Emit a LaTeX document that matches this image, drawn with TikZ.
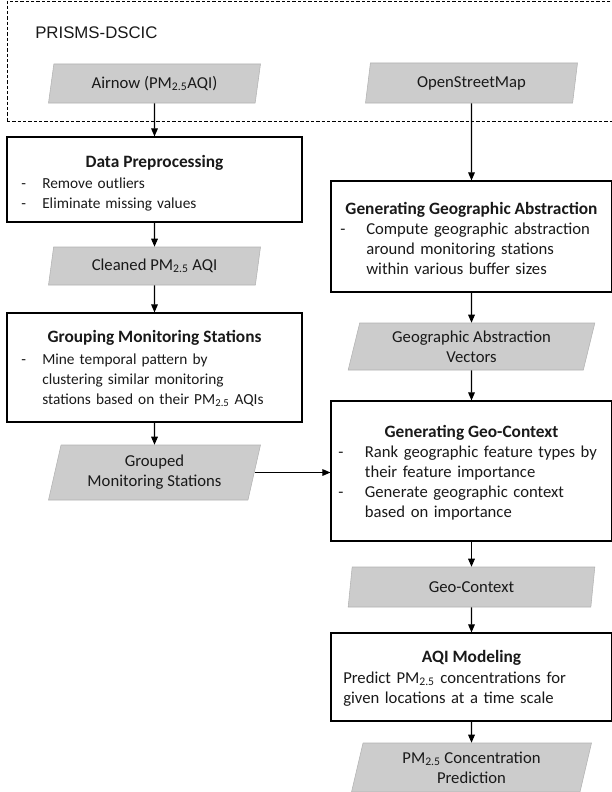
\documentclass[tikz,border=0pt]{standalone}
\usepackage{fontspec}
\setmainfont{Carlito}
\newfontfamily\arialfont{Liberation Sans}
\usetikzlibrary{shapes.geometric,arrows.meta}

\newcommand{\pmtf}{PM\textsubscript{2.5}}
\newcommand{\bul}[1][15.75pt]{\makebox[#1][l]{-}}
\newcommand{\ind}[1][15.75pt]{\hspace*{#1}}

\begin{document}
\begin{tikzpicture}[
    x=0.75pt, y=-0.75pt,
    every node/.style={font=\fontsize{12.5}{15}\selectfont, text=black!90},
    unit/.style={
        draw,
        line width=0.9pt,
        inner sep=0pt,
        minimum width=221.25pt
    },
    data/.style={
        trapezium,
        trapezium left angle=70,
        trapezium right angle=110,
        trapezium stretches body,
        draw=black!30,
        fill=black!20,
        align=center,
        inner sep=0pt,
        minimum width=159pt
    },
    head/.style={anchor=base, inner sep=0pt, font=\fontsize{13}{15}\selectfont\bfseries},
    body/.style={anchor=base west, inner sep=0pt, align=left, text width=215pt},
    smallbody/.style={body, font=\fontsize{11.5}{15}\selectfont},
    arr/.style={-{Triangle[length=6pt,width=5pt]}, line width=0.8pt}
]
    \useasboundingbox (0,0) rectangle (611,792);

    % PRISMS-DSCIC
    \node[
        draw,
        dash pattern=on 2.5pt off 1.5pt,
        line width=0.7pt,
        inner sep=0pt,
        minimum width=455.25pt,
        minimum height=90pt
    ] (prisms) at (310.5,61) {};
    \node[font=\arialfont\fontsize{12.6}{14}\selectfont, anchor=base west, inner sep=0pt]
        (prismslabel) at (35,39) {PRISMS-DSCIC};

    % Left column
    \node[data, minimum height=29.25pt] (airnow) at (154.5,83.5) {Airnow (\pmtf AQI)};

    \node[unit, minimum height=63.75pt] (prep) at (154.5,179.5) {};
    \node[head] (prephead) at (154.5,167) {Data Preprocessing};
    \node[smallbody] (preptext) at (21,188) {\bul Remove outliers\\
        \bul Eliminate missing values};

    \node[data, minimum height=28.5pt] (cleaned) at (154.5,266) {Cleaned \pmtf{} AQI};

    \node[unit, minimum height=81.75pt] (group) at (154.5,367.5) {};
    \node[head] (grouphead) at (154.5,342) {Grouping Monitoring Stations};
    \node[smallbody] (grouptext) at (21,364) {\bul Mine temporal pattern by\\
        \ind clustering similar monitoring\\
        \ind stations based on their \pmtf{} AQIs};

    \node[data, minimum height=41.25pt] (grouped) at (154.5,472.5) {Grouped\\Monitoring Stations};

    % Right column
    \node[data, minimum height=30pt] (osm) at (471.5,83) {OpenStreetMap};

    \node[unit, minimum width=210.75pt, minimum height=83.25pt] (abstr) at (471.5,236.5) {};
    \node[head] (abstrhead) at (471.5,214) {Generating Geographic Abstraction};
    \node[body] (abstrtext) at (340,234.5) {\bul[19.5pt]Compute geographic abstraction\\
        \ind[19.5pt]around monitoring stations\\
        \ind[19.5pt]within various buffer sizes};

    \node[data, minimum width=185pt, minimum height=35.25pt] (vectors) at (471.5,346.5)
        {Geographic Abstraction\\Vectors};

    \node[unit, minimum width=210.75pt, minimum height=105pt] (geoctx) at (471.5,471) {};
    \node[head] (geoctxhead) at (471.5,437) {Generating Geo-Context};
    \node[body] (geoctxtext) at (338,457) {\bul[20pt]Rank geographic feature types by\\
        \ind[20pt]their feature importance\\
        \bul[20pt]Generate geographic context\\
        \ind[20pt]based on importance};

    \node[data, minimum width=185pt, minimum height=30pt] (context) at (471.5,587) {Geo-Context};

    \node[unit, minimum width=210.75pt, minimum height=66pt] (model) at (471.5,677) {};
    \node[head] (modelhead) at (471.5,662) {AQI Modeling};
    \node[body] (modeltext) at (343,683) {Predict \pmtf{} concentrations for\\
        given locations at a time scale};

    \node[data, minimum width=180pt, minimum height=36.75pt] (predict) at (471.5,767.5)
        {\pmtf{} Concentration\\Prediction};

    % Arrows
    \draw[arr] (airnow) -- (prep);
    \draw[arr] (prep) -- (cleaned);
    \draw[arr] (cleaned) -- (group);
    \draw[arr] (group) -- (grouped);
    \draw[arr] (grouped.east) -- (grouped.east -| geoctx.west);

    \draw[arr] (osm) -- (abstr);
    \draw[arr] (abstr) -- (vectors);
    \draw[arr] (vectors) -- (geoctx);
    \draw[arr] (geoctx) -- (context);
    \draw[arr] (context) -- (model);
    \draw[arr] (model) -- (predict);

\end{tikzpicture}
\end{document}
